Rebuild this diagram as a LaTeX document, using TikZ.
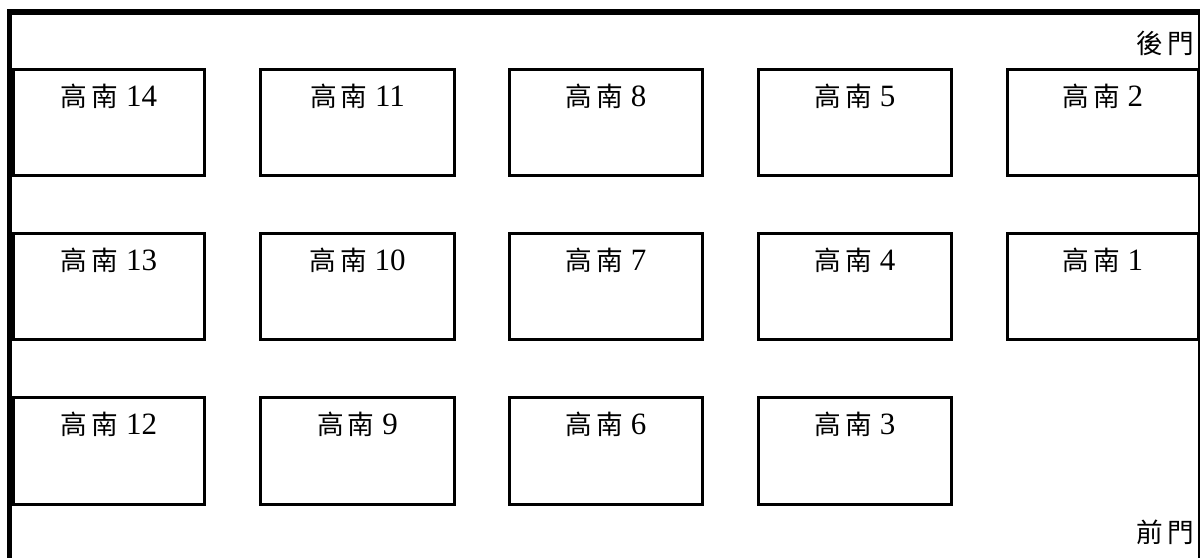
\documentclass[tikz,border=0pt]{standalone}
\usepackage{fontspec}
\setmainfont{Liberation Serif}
\newfontfamily\cjk[Scale=0.86]{Noto Sans CJK TC}
\usetikzlibrary{calc}
\tikzset{
  seat/.style={draw, line width=3pt, rectangle, inner sep=0pt},
  seatlabel/.style={anchor=base, inner sep=0pt, font=\fontsize{31}{36}\selectfont},
  doorlabel/.style={anchor=base east, inner sep=0pt, font=\fontsize{31}{36}\selectfont}
}
\begin{document}
\begin{tikzpicture}[x=1pt,y=-1pt]
\useasboundingbox (0,0) rectangle (1200,558);
% frame
\draw[line width=6pt] (7,12) -- (1200,12);
\draw[line width=5.5pt] (9.5,9) -- (9.5,558);
\draw[line width=2pt] (1199,12) -- (1199,558);
% row 1
\node[seat, minimum width=191pt, minimum height=106pt] (b14) at (109,122.5) {};
\node[seat, minimum width=194pt, minimum height=106pt] (b11) at (357.5,122.5) {};
\node[seat, minimum width=193pt, minimum height=106pt] (b8) at (606,122.5) {};
\node[seat, minimum width=193pt, minimum height=106pt] (b5) at (855,122.5) {};
\node[seat, minimum width=190.5pt, minimum height=106pt] (b2) at (1102.75,122.5) {};
% row 2
\node[seat, minimum width=191pt, minimum height=106pt] (b13) at (109,286.5) {};
\node[seat, minimum width=194pt, minimum height=106pt] (b10) at (357.5,286.5) {};
\node[seat, minimum width=193pt, minimum height=106pt] (b7) at (606,286.5) {};
\node[seat, minimum width=193pt, minimum height=106pt] (b4) at (855,286.5) {};
\node[seat, minimum width=190.5pt, minimum height=106pt] (b1) at (1102.75,286.5) {};
% row 3
\node[seat, minimum width=191pt, minimum height=107pt] (b12) at (109,451) {};
\node[seat, minimum width=194pt, minimum height=107pt] (b9) at (357.5,451) {};
\node[seat, minimum width=193pt, minimum height=107pt] (b6) at (606,451) {};
\node[seat, minimum width=193pt, minimum height=107pt] (b3) at (855,451) {};
% labels
\foreach \n in {14,11,8,5,2,13,10,7,4,1,12,9,6,3}{
  \node[seatlabel] (l\n) at ($(b\n.north)+(0,38)$) {{\cjk 高\kern4pt 南} \n};
}
\node[doorlabel] (back) at (1194,53) {\cjk 後\kern4pt 門};
\node[doorlabel] (front) at (1194,542) {\cjk 前\kern4pt 門};
\end{tikzpicture}
\end{document}
